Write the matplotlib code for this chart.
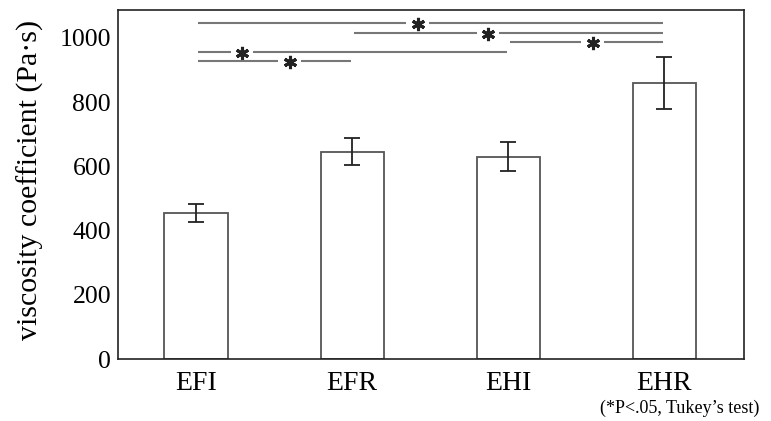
import matplotlib
matplotlib.use("Agg")
import matplotlib.pyplot as plt

groups = ["EFI", "EFR", "EHI", "EHR"]
means = [455, 645, 630, 860]
errs = [28, 42, 46, 82]

# significance lines: (from group, to group, height, star position)
sig_pairs = [(0, 3, 1047, 1.42), (1, 3, 1016, 1.87), (2, 3, 988, 2.54),
             (0, 2, 956, 0.295), (0, 1, 928, 0.60)]

plt.rcParams['font.family'] = ['Liberation Serif', 'DejaVu Serif']

fig = plt.figure(figsize=(7.71, 4.21), dpi=100)
ax = fig.add_axes([118/771, 1-359/421, (744-118)/771, (359-10)/421])

x = list(range(len(groups)))
ax.bar(x, means, width=0.405, color='white', edgecolor='#555555', linewidth=1.3, zorder=2)
ax.errorbar(x, means, yerr=errs, fmt='none', ecolor='#222222', elinewidth=1.3,
            capsize=6, capthick=1.3, zorder=3)

gap = 0.072
for a, b, h, s in sig_pairs:
    ax.plot([a + 0.01, s - gap], [h, h], color='#777777', lw=1.5, solid_capstyle='butt')
    ax.plot([s + gap, b - 0.01], [h, h], color='#777777', lw=1.5, solid_capstyle='butt')
    ax.plot([s], [h - 4], marker=(6, 2, 0), markersize=9.5, mew=2.2, color='#222222')

ax.set_xlim(-0.5, 3.51)
ax.set_ylim(0, 1087)
ax.set_xticks(x)
ax.set_xticklabels(groups, fontsize=20)
ax.set_yticks([0, 200, 400, 600, 800, 1000])
ax.tick_params(axis='y', length=0, labelsize=18.5, pad=5)
ax.tick_params(axis='x', length=0, pad=9)
ax.set_ylabel("viscosity coefficient (Pa\u00b7s)", fontsize=21.5)
ax.yaxis.set_label_coords(-0.119, 0.513)
for sp in ax.spines.values():
    sp.set_linewidth(1.2)
    sp.set_color('#222222')

fig.text(680/771, 1-408/421, "(*P<.05, Tukey\u2019s test)", ha='center', va='center', fontsize=13)

fig.savefig("out.png", dpi=100)
